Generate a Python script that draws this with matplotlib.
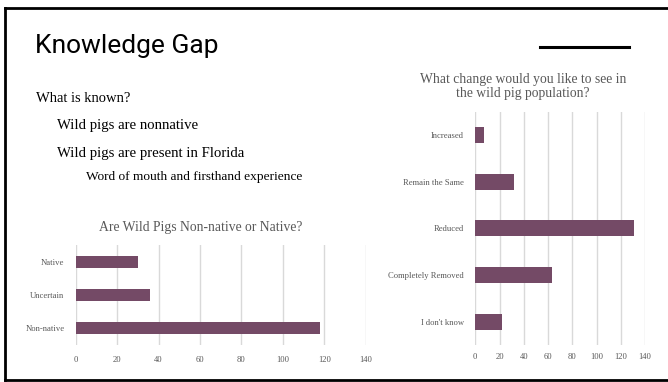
import matplotlib
matplotlib.use("Agg")
import matplotlib.pyplot as plt
from matplotlib.lines import Line2D
from matplotlib import font_manager as fm

# ---- data ----
left_categories = ["Non-native", "Uncertain", "Native"]
left_values = [118, 36, 30]
right_categories = ["I don't know", "Completely Removed", "Reduced", "Remain the Same", "Increased"]
right_values = [22, 63, 131, 32, 7]
x_ticks = [0, 20, 40, 60, 80, 100, 120, 140]

title_text = "Knowledge Gap"
left_title = "Are Wild Pigs Non-native or Native?"
right_title = "What change would you like to see in\nthe wild pig population?"
bullets = [
    ("What is known?", 36, 98, 10.5),
    ("Wild pigs are nonnative", 57, 125, 10.6),
    ("Wild pigs are present in Florida", 57, 153, 10.6),
    ("Word of mouth and firsthand experience", 86, 177, 9.6),
]

names = {f.name for f in fm.fontManager.ttflist}
serif = "Liberation Serif" if "Liberation Serif" in names else "DejaVu Serif"
if "Liberation Sans Narrow" in names:
    head_font = dict(family="Liberation Sans Narrow", fontsize=22)
elif "Roboto" in names:
    head_font = dict(family="Roboto", fontsize=19)
else:
    head_font = dict(family="DejaVu Sans", fontsize=18.5)

W, H = 668, 382
fig = plt.figure(figsize=(W / 100, H / 100), dpi=100)
fig.patch.set_facecolor("white")

def fx(px):
    return px / W

def fy(py):
    return 1 - py / H

# slide frame
for xs, ys in [((5, 700), (8, 8)), ((5, 5), (8, 380)), ((5, 700), (380, 380))]:
    fig.add_artist(Line2D([fx(x) for x in xs], [fy(y) for y in ys], color="black", lw=2.0,
                          transform=fig.transFigure))
# accent line
fig.add_artist(Line2D([fx(540), fx(629)], [fy(47), fy(47)], color="black", lw=2.2,
                      transform=fig.transFigure))

fig.text(fx(35), fy(46), title_text, va="center", ha="left", color="black", **head_font)

for txt, x, y, fs in bullets:
    fig.text(fx(x), fy(y), txt, fontsize=fs, va="center", ha="left", color="black", family=serif)

bar_color = "#744A66"
grid_color = "#D9D9D9"
tick_color = "#595959"

def style(ax):
    for s in ax.spines.values():
        s.set_visible(False)
    ax.set_xlim(0, 140)
    ax.set_xticks(x_ticks)
    ax.xaxis.grid(True, color=grid_color, lw=1.0)
    ax.set_axisbelow(True)
    ax.tick_params(axis="both", length=0, colors=tick_color, labelsize=6.2)
    for lab in ax.get_xticklabels() + ax.get_yticklabels():
        lab.set_family(serif)

# left chart
axl = fig.add_axes([fx(75.7), fy(345), fx(365.7) - fx(75.7), (345 - 245) / H])
axl.barh(range(len(left_categories)), left_values, height=0.36, color=bar_color)
axl.set_yticks(range(len(left_categories)))
axl.set_yticklabels(left_categories)
axl.set_ylim(-0.5, len(left_categories) - 0.5)
style(axl)
axl.tick_params(axis="y", pad=8)
axl.tick_params(axis="x", pad=8)
fig.text(fx(201), fy(228), left_title, fontsize=9.8, ha="center", va="center", color=tick_color, family=serif)

# right chart
axr = fig.add_axes([fx(475.3), fy(345), fx(645) - fx(475.3), (345 - 111.7) / H])
axr.barh(range(len(right_categories)), right_values, height=0.34, color=bar_color)
axr.set_yticks(range(len(right_categories)))
axr.set_yticklabels(right_categories)
axr.set_ylim(-0.5, len(right_categories) - 0.5)
style(axr)
axr.tick_params(axis="y", pad=8)
axr.tick_params(axis="x", pad=6)
fig.text(fx(523), fy(86.5), right_title, fontsize=9.8, ha="center", va="center", color=tick_color,
         family=serif, linespacing=1.0)

fig.savefig("out.png", dpi=100, facecolor="white")
